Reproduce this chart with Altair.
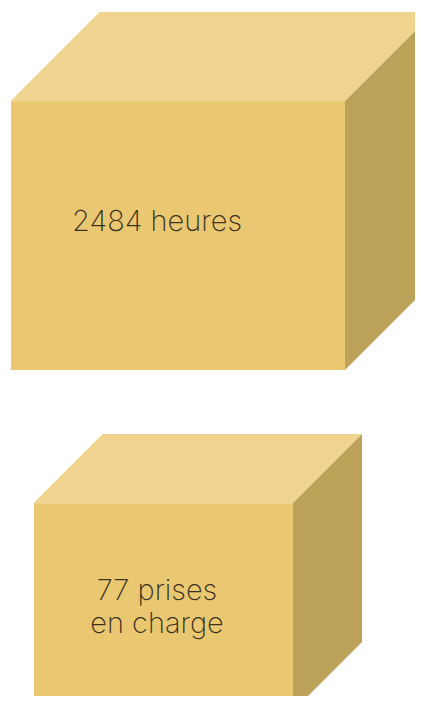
import altair as alt
import pandas as pd

# Cube labels (the infographic's values)
labels = ["2484 heures", "77 prises\nen charge"]

# Cube geometry in page pixels
front_left = [11, 34]
front_top = [101, 503]
front_w = [334, 259]
front_h = [269, 208]
depth = [89, 69]
label_x = [157, 157]
label_y = [231, 600]
LINE_GAP = 33

FRONT = "#EAC872"
TOP = "#EFD38E"
SIDE = "#BDA25A"
EDGE = "#F3DBA4"
TEXT = "#3A3120"

M = 8
W, H = 423 - 2 * M, 704 - 2 * M
xs = alt.Scale(domain=[M, M + W], nice=False, zero=False)
ys = alt.Scale(domain=[M, M + H], nice=False, zero=False, reverse=True)

front_rows, top_rows, side_rows, edge_rows, text_rows = [], [], [], [], []
for i in range(len(labels)):
    L, T, w, h, d = front_left[i], front_top[i], front_w[i], front_h[i], depth[i]
    R, B = L + w, T + h
    front_rows.append({"c": i, "x": L, "x2": R, "y": T, "y2": B})
    for px, py, py2 in [(L, T, T), (L + d, T - d, T), (R, T - d, T), (R + d, T - d, T - d)]:
        top_rows.append({"c": i, "x": px, "y": py, "y2": py2})
    for px, py, py2 in [(R, T, B), (R + d, T - d, B - d)]:
        side_rows.append({"c": i, "x": px, "y": py, "y2": py2})
    for k, (px, py) in enumerate([(L + d, T - d), (L, T), (R, T)]):
        edge_rows.append({"c": i, "k": k, "x": px, "y": py})
    for j, line in enumerate(labels[i].split("\n")):
        text_rows.append({"c": i, "x": label_x[i], "y": label_y[i] + j * LINE_GAP, "t": line})

front = alt.Chart(pd.DataFrame(front_rows)).mark_rect(fill=FRONT, clip=True).encode(
    x=alt.X("x:Q", scale=xs, axis=None), x2="x2:Q",
    y=alt.Y("y:Q", scale=ys, axis=None), y2="y2:Q")

top = alt.Chart(pd.DataFrame(top_rows)).mark_area(fill=TOP, clip=True).encode(
    x=alt.X("x:Q", scale=xs, axis=None),
    y=alt.Y("y:Q", scale=ys, axis=None), y2="y2:Q", detail="c:N")

side = alt.Chart(pd.DataFrame(side_rows)).mark_area(fill=SIDE, clip=True).encode(
    x=alt.X("x:Q", scale=xs, axis=None),
    y=alt.Y("y:Q", scale=ys, axis=None), y2="y2:Q", detail="c:N")

edge = alt.Chart(pd.DataFrame(edge_rows)).mark_line(
    stroke=EDGE, strokeWidth=1, clip=True, opacity=0.8).encode(
    x=alt.X("x:Q", scale=xs, axis=None),
    y=alt.Y("y:Q", scale=ys, axis=None), detail="c:N", order="k:Q")

text = alt.Chart(pd.DataFrame(text_rows)).mark_text(
    font="Inter", fontWeight=200, fontSize=29, color=TEXT, align="center",
    baseline="alphabetic").encode(
    x=alt.X("x:Q", scale=xs, axis=None),
    y=alt.Y("y:Q", scale=ys, axis=None), text="t:N")

chart = alt.layer(front, top, side, edge, text).properties(
    width=W, height=H, padding=0, autosize=alt.AutoSizeParams(type="none")
).configure_view(stroke=None)

chart.save("out.html", embed_options={"renderer": "svg", "actions": False})
